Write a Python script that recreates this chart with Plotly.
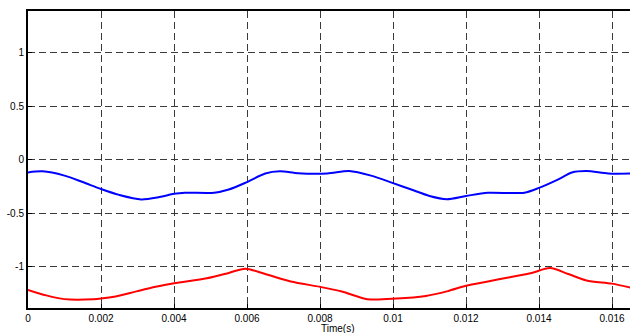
import plotly.graph_objects as go

# Blue series
t_blue = [0, 0.0004, 0.001, 0.0015, 0.002, 0.0025, 0.0031, 0.0036, 0.004, 0.0043,
          0.0051, 0.0055, 0.006, 0.0065, 0.0069, 0.0074, 0.0082, 0.0088, 0.0094,
          0.01, 0.0105, 0.011, 0.01147, 0.012, 0.0126, 0.0136, 0.014, 0.0145,
          0.0149, 0.0153, 0.0159, 0.0165]
v_blue = [-0.12, -0.11, -0.15, -0.21, -0.275, -0.33, -0.372, -0.35, -0.32, -0.31,
          -0.31, -0.28, -0.21, -0.13, -0.11, -0.128, -0.13, -0.106, -0.15,
          -0.22, -0.28, -0.34, -0.37, -0.34, -0.31, -0.31, -0.265, -0.19,
          -0.12, -0.106, -0.13, -0.13]

# Red series
t_red = [0, 0.0005, 0.001, 0.0018, 0.002, 0.0024, 0.003, 0.0035, 0.004, 0.0049,
         0.0055, 0.00595, 0.0065, 0.0072, 0.008, 0.0086, 0.0093, 0.0101, 0.0109,
         0.0115, 0.012, 0.0126, 0.0132, 0.0138, 0.0143, 0.0148, 0.0153, 0.016, 0.0165]
v_red = [-1.218, -1.27, -1.305, -1.306, -1.30, -1.28, -1.23, -1.19, -1.156, -1.11,
         -1.06, -1.02, -1.07, -1.14, -1.19, -1.234, -1.306, -1.30, -1.275,
         -1.23, -1.18, -1.14, -1.10, -1.06, -1.015, -1.07, -1.13, -1.16, -1.197]

x_ticks = [0, 0.002, 0.004, 0.006, 0.008, 0.01, 0.012, 0.014, 0.016]
x_tick_labels = ["0", "0.002", "0.004", "0.006", "0.008", "0.01", "0.012", "0.014", "0.016"]
y_ticks = [-1, -0.5, 0, 0.5, 1]
y_tick_labels = ["-1", "-0.5", "0", "0.5", "1"]
x_title = "Time(s)"

fig = go.Figure()
fig.add_trace(go.Scatter(x=t_blue, y=v_blue, mode="lines", line=dict(color="#0000ff", width=2, shape="spline", smoothing=0.8)))
fig.add_trace(go.Scatter(x=t_red, y=v_red, mode="lines", line=dict(color="#ff0000", width=2, shape="spline", smoothing=0.8)))

font = dict(family="Liberation Sans, Arial, sans-serif", size=10, color="black")
fig.update_layout(
    width=630, height=333,
    margin=dict(l=28, r=0, t=11, b=25),
    paper_bgcolor="white", plot_bgcolor="white",
    showlegend=False,
    font=font,
)
grid = dict(showgrid=True, gridcolor="#3a3a3a", gridwidth=1.3, griddash="7px,4px")
fig.update_xaxes(
    range=[0, 0.016493], tickvals=x_ticks, ticktext=x_tick_labels, automargin=False,
    showline=True, linecolor="black", linewidth=2, mirror=True,
    ticks="inside", ticklen=4, tickcolor="black", zeroline=False, tickfont=font, **grid,
)
fig.update_yaxes(
    range=[-1.388, 1.39], tickvals=y_ticks, ticktext=y_tick_labels, automargin=False,
    showline=True, linecolor="black", linewidth=2,
    ticks="inside", ticklen=4, tickcolor="black", zeroline=False, tickfont=font, **grid,
)
fig.add_annotation(text=x_title, xref="paper", yref="paper", x=0.515, y=0,
                   xanchor="center", yanchor="top", yshift=-13, showarrow=False, font=font)
fig.write_html("out.html", config={"displayModeBar": False},
               post_script="document.body.style.margin='0';document.body.style.overflow='hidden';")
